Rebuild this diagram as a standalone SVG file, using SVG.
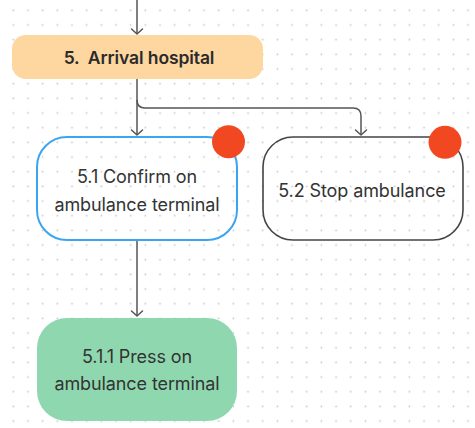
<svg xmlns="http://www.w3.org/2000/svg" width="475" height="428" viewBox="0 0 475 428">
  <defs>
    <pattern id="dots" x="6" y="3" width="14.67" height="14.67" patternUnits="userSpaceOnUse">
      <circle cx="7.33" cy="7.33" r="0.9" fill="#c8c8c8"/>
    </pattern>
    <marker id="arr" viewBox="-7 -7 14 14" refX="0" refY="0" markerWidth="14" markerHeight="14" markerUnits="userSpaceOnUse" orient="auto">
      <path d="M-5,-5.5 L0,0 L-5,5.5" fill="none" stroke="#555" stroke-width="1.5" stroke-linecap="round" stroke-linejoin="round"/>
    </marker>
  </defs>
  <style>
    .conn { fill: none; stroke: #555; stroke-width: 1.5; }
    .label { font-family: Inter, "Noto Sans", "Liberation Sans", sans-serif; font-size: 18px; fill: #333; text-anchor: middle; letter-spacing: -0.1px; }
    .bold { font-weight: 600; fill: #2a2a2a; font-size: 17.5px; }
    .badge { fill: #F24822; }
  </style>
  <rect width="475" height="428" fill="#ffffff"/>
  <rect width="475" height="428" fill="url(#dots)"/>

  <g id="connectors">
    <path class="conn" d="M137,0 V34" marker-end="url(#arr)"/>
    <path class="conn" d="M137,79 V135" marker-end="url(#arr)"/>
    <path class="conn" d="M137,100 Q137,108 145,108 H353 Q361,108 361,116 V135" marker-end="url(#arr)"/>
    <path class="conn" d="M137,240 V316" marker-end="url(#arr)"/>
  </g>

  <g id="node-5">
    <rect x="12" y="35" width="251" height="44" rx="14" fill="#FDD398" fill-opacity="0.92"/>
    <text class="label bold" x="139" y="63.5" xml:space="preserve">5.  Arrival hospital</text>
  </g>

  <g id="node-5-1">
    <rect x="37" y="137" width="200" height="103" rx="30" fill="none" stroke="#3BA5F2" stroke-width="2"/>
    <text class="label" x="137" y="182.5">5.1 Confirm on</text>
    <text class="label" x="137" y="210.5">ambulance terminal</text>
    <circle class="badge" cx="228.5" cy="141.7" r="16.5"/>
  </g>

  <g id="node-5-2">
    <rect x="263" y="137" width="200" height="103" rx="30" fill="none" stroke="#444" stroke-width="1.6"/>
    <text class="label" x="362" y="196.5">5.2 Stop ambulance</text>
    <circle class="badge" cx="445" cy="142.3" r="16.5"/>
  </g>

  <g id="node-5-1-1">
    <rect x="37" y="318" width="200" height="103" rx="30" fill="#86D5A9" fill-opacity="0.93"/>
    <text class="label" x="137" y="362.5" fill="#222">5.1.1 Press on</text>
    <text class="label" x="137" y="390" fill="#222">ambulance terminal</text>
  </g>
</svg>
